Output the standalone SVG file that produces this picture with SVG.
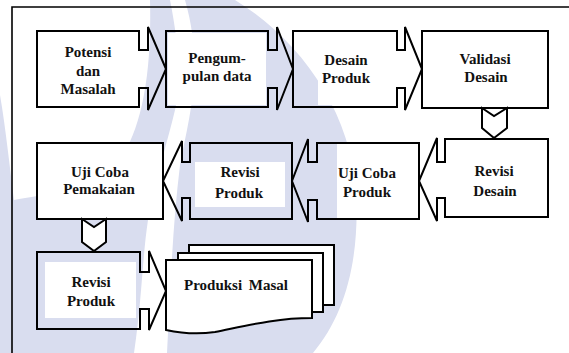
<svg xmlns="http://www.w3.org/2000/svg" width="569" height="353" viewBox="0 0 569 353">
<style>
.wm{fill:#d9ddef;stroke:none}
.sh{fill:none;stroke:#000;stroke-width:2;stroke-linejoin:miter}
.wf{fill:#fff;stroke:#000;stroke-width:2}
.tb{fill:#fff;stroke:none}
</style>
<rect width="569" height="353" fill="#fff"/>
<g id="watermark">
<path class="wm" d="M150,0 L170,0 C178,40 182,80 175,110 C168,140 155,180 148,220 C142,260 142,300 134,353 L0,353 L0,95 C6,130 10,170 14,200 C40,195 100,190 120,160 C140,130 152,80 150,0 Z"/>
<path class="wm" d="M185,0 L235,0 C300,40 350,110 356,190 C360,260 345,315 313,353 L167,353 C170,300 172,230 180,165 C188,120 205,70 185,0 Z"/>
</g>
<g id="frame"><path d="M12,353 V7 H569" fill="none" stroke="#000" stroke-width="1.6"/></g>
<g id="nodes" font-family="Liberation Serif" font-weight="bold" font-size="15" fill="#111" text-anchor="middle">
<g id="n1">
<rect class="tb" x="55" y="38" width="78" height="62"/>
<path class="sh" d="M37,31 H139 V50 H148 V27 L166,69 L148,110 V88 H139 V107 H37 Z"/>
<text x="88" y="57">Potensi</text><text x="88" y="76">dan</text><text x="88" y="94">Masalah</text>
</g>
<g id="n2">
<rect class="tb" x="168" y="33" width="98" height="72"/>
<path class="sh" d="M166,31 H268 V50 H277 V27 L293,69 L277,110 V88 H268 V107 H166 Z"/>
<text x="217" y="63">Pengum-</text><text x="217" y="81">pulan data</text>
</g>
<g id="n3">
<rect class="tb" x="318" y="33" width="77" height="72"/>
<path class="sh" d="M293,31 H397 V50 H405 V27 L422,69 L405,110 V88 H397 V107 H293 Z"/>
<text x="346" y="65">Desain</text><text x="346" y="83">Produk</text>
</g>
<g id="n4">
<rect class="wf" x="422" y="31" width="126" height="77"/>
<text x="485" y="64">Validasi</text><text x="486" y="82">Desain</text>
</g>
<g id="n5">
<rect class="tb" x="446" y="140" width="101" height="76"/>
<path class="sh" d="M445,139 H548 V217 H445 V198 H437 V221 L419,181 L437,138 V162 H445 Z"/>
<text x="494" y="176">Revisi</text><text x="495" y="196">Desain</text>
</g>
<g id="n6">
<rect class="tb" x="337" y="144" width="81" height="74"/>
<path class="sh" d="M317,143 H419 V219 H317 V200 H308 V222 L292,181 L308,139 V162 H317 Z"/>
<text x="367" y="178">Uji Coba</text><text x="367" y="197">Produk</text>
</g>
<g id="n7">
<rect class="tb" x="195" y="162" width="90" height="45"/>
<path class="sh" d="M190,143 H292 V219 H190 V198 H182 V221 L163,181 L182,141 V162 H190 Z"/>
<text x="240" y="177">Revisi</text><text x="239" y="198">Produk</text>
</g>
<g id="n8">
<rect class="wf" x="37" y="143" width="126" height="76"/>
<text x="100" y="177">Uji Coba</text><text x="99" y="194">Pemakaian</text>
</g>
<g id="n9">
<rect class="tb" x="45" y="262" width="91" height="56"/>
<path class="sh" d="M37,252 H140 V272 H149 V251 L166,291 L149,330 V309 H140 V329 H37 Z"/>
<text x="91" y="287">Revisi</text><text x="91" y="306">Produk</text>
</g>
<g id="n10">
<rect class="wf" x="189" y="245" width="145" height="60"/>
<rect class="wf" x="178" y="253" width="145" height="59"/>
<path class="wf" d="M166,260 H312 V318 C275,318 245,326 215,332 C195,335 180,333 166,330 Z"/>
<text x="236" y="290" word-spacing="3">Produksi Masal</text>
</g>
</g>
<g id="connectors">
<path class="wf" d="M482,108 L494,116 L507,108 V128 L494,138 L482,128 Z"/>
<path class="wf" d="M82,219 L94,227 L106,219 V242 L94,251 L82,242 Z"/>
</g>
</svg>
